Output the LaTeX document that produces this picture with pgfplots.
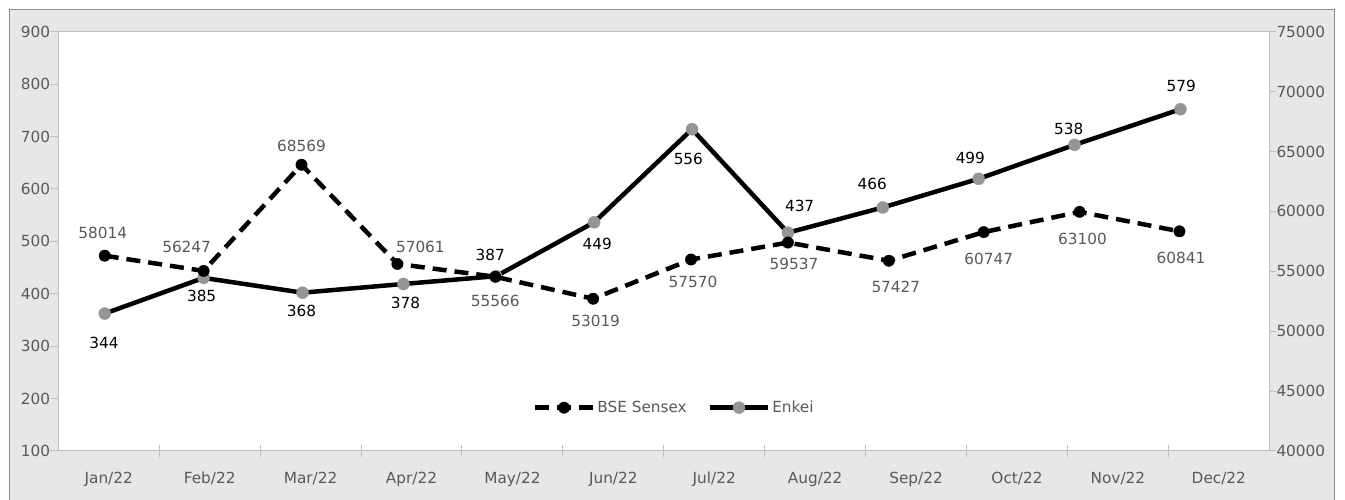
\documentclass[border=0pt]{standalone}
\usepackage{pgfplots}
\pgfplotsset{compat=1.18}
\usepackage{pgfplotstable}
\usepackage{fontspec}
\setmainfont{DejaVu Sans}
\definecolor{txtgray}{HTML}{595959}
\definecolor{axgray}{HTML}{BFBFBF}
\definecolor{bggray}{HTML}{E6E7E8}
\definecolor{brdgray}{HTML}{8C8C8C}
\definecolor{mkgray}{HTML}{939598}
\newcommand{\lblfont}{\fontsize{15.3}{18}\selectfont}

% Enkei (plotted against its own scale); dx, dy = label offset
\pgfplotstableread{
x y dx dy
0.46 344 -0.7 -29
1.44 385 -2 -18.4
2.42 368 -1 -18.5
3.42 378 2 -18.7
4.34 387 -6 21
5.31 449 3 -21.3
6.28 556 -3.7 -30
7.23 437 11.7 26.3
8.17 466 -10.6 23.6
9.12 499 -8.3 21
10.07 538 -5.7 16
11.12 579 0.8 23
}\enkei

% BSE Sensex
\pgfplotstableread{
x y dx dy
0.46 58014 -2 22.7
1.44 56247 -17 24
2.41 68569 0 19
3.36 57061 23 16.5
4.33 55566 0 -24
5.30 53019 2.5 -22
6.27 57570 2 -22
7.23 59537 6 -21.5
8.23 57427 7 -25.7
9.17 60747 5 -26.5
10.12 63100 3 -27
11.11 60841 1.5 -26.7
}\bse

\begin{document}
\begin{tikzpicture}[font=\lblfont]
\useasboundingbox (0,0) rectangle (1345pt,500pt);
\fill[white] (0,0) rectangle (1345pt,500pt);
\draw[brdgray, fill=bggray, line width=1pt] (9.3pt,-5pt) rectangle (1334pt,490.7pt);
\pgfplotsset{
  every axis/.append style={scale only axis, width=1211pt, height=419.3pt,
    at={(58.3pt,49pt)}, anchor=south west, xmin=0, xmax=12},
}
% main axis: left scale and months
\begin{axis}[
  ymin=100, ymax=900, ytick={100,200,...,900},
  xtick={0.5,1.5,...,11.5},
  xticklabels={Jan/22,Feb/22,Mar/22,Apr/22,May/22,Jun/22,Jul/22,Aug/22,Sep/22,Oct/22,Nov/22,Dec/22},
  minor xtick={1,2,...,11},
  xtick pos=bottom, ytick pos=left,
  ytick align=outside, xtick align=center,
  major tick length=8pt, minor tick length=11.6pt,
  every major x tick/.append style={draw=none},
  tick style={axgray, line width=1pt},
  axis line style={axgray, line width=1pt},
  axis background/.style={fill=white},
  tick label style={text=txtgray, font=\lblfont},
  /pgf/number format/assume math mode=true,
  yticklabel style={anchor=east, inner sep=0pt},
  xticklabel style={anchor=base, inner sep=0pt, yshift=-28.5pt},
]
\end{axis}
% right scale
\begin{axis}[
  ymin=40000, ymax=75000, ytick={40000,45000,...,75000},
  scaled y ticks=false,
  axis y line*=right, axis x line=none,
  ytick align=outside, major tick length=7pt,
  tick style={axgray, line width=1pt},
  axis line style={axgray, line width=1pt},
  tick label style={text=txtgray, font=\lblfont},
  yticklabel style={anchor=west, inner sep=0pt},
  /pgf/number format/set thousands separator={},
  /pgf/number format/assume math mode=true,
]
\end{axis}
% Enkei
\begin{axis}[hide axis, ymin=185.9, ymax=668.2, clip=false]
\addplot[black, line width=4.5pt, line join=round, mark=*, mark size=6pt,
  mark options={solid, draw=mkgray, fill=mkgray, line width=0.4pt},
  point meta=explicit symbolic, nodes near coords,
  visualization depends on={\thisrow{dx}\as\ldx},
  visualization depends on={\thisrow{dy}\as\ldy},
  every node near coord/.append style={anchor=center, inner sep=0pt,
     xshift=\ldx pt, yshift=\ldy pt, text=black, font=\lblfont}]
  table[x=x, y=y, meta=y]{\enkei};
\end{axis}
% BSE Sensex
\begin{axis}[hide axis, ymin=35349, ymax=84008, clip=false,
  legend style={at={(0.5086,0.1033)}, anchor=center, draw=none, fill=none,
    legend columns=-1, font=\lblfont, text=txtgray,
    /tikz/every even column/.append style={column sep=19pt}},
  legend image code/.code={\draw[#1, mark repeat=2, mark phase=2]
     plot coordinates {(0pt,0pt) (29pt,0pt) (58pt,0pt)};},
]
\addplot[black, line width=4.5pt, line join=round, dash pattern=on 14pt off 8pt,
  mark=*, mark size=5.7pt, mark options={solid, draw=black, fill=black, line width=0.4pt},
  point meta=explicit symbolic, nodes near coords,
  visualization depends on={\thisrow{dx}\as\ldx},
  visualization depends on={\thisrow{dy}\as\ldy},
  every node near coord/.append style={anchor=center, inner sep=0pt,
     xshift=\ldx pt, yshift=\ldy pt, text=txtgray, font=\lblfont}]
  table[x=x, y=y, meta=y]{\bse};
\addlegendentry{BSE Sensex}
\addlegendimage{black, line width=4.5pt, mark=*, mark size=6pt,
  mark options={solid, draw=mkgray, fill=mkgray, line width=0.4pt}}
\addlegendentry{Enkei}
\end{axis}
\end{tikzpicture}
\end{document}
